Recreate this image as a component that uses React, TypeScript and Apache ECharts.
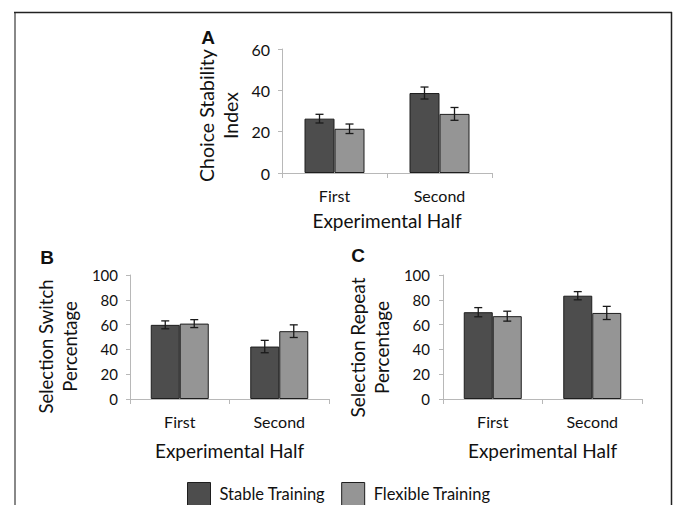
import React, { useEffect, useRef } from "react";
import * as echarts from "echarts";

const categories = ["First", "Second"];
const seriesNames = ["Stable Training", "Flexible Training"];

const stabilityStable = [26.3, 38.7];
const stabilityStableErr = [2.1, 2.9];
const stabilityFlexible = [21.4, 28.6];
const stabilityFlexibleErr = [2.3, 3.1];

const switchStable = [59.8, 42.3];
const switchStableErr = [3.2, 5.0];
const switchFlexible = [60.8, 54.7];
const switchFlexibleErr = [3.2, 5.1];

const repeatStable = [70.0, 83.3];
const repeatStableErr = [3.7, 3.3];
const repeatFlexible = [66.8, 69.4];
const repeatFlexibleErr = [4.0, 5.3];

const FONT = "Lato";
const STABLE_COLOR = "#4d4d4d";
const FLEX_COLOR = "#959595";
const EDGE = "#1e1e1e";
const AXIS_COLOR = "#b8b8b8";

export default function App() {
  const ref = useRef<HTMLDivElement>(null);
  useEffect(() => {
    if (!ref.current) return;
    const chart = echarts.init(ref.current, null, { renderer: "svg" });

    const errRender = (offset: number) => (params: any, api: any) => {
      const cat = api.value(0);
      const v = api.value(1);
      const e = api.value(2);
      const top = api.coord([cat, v + e]);
      const bot = api.coord([cat, v - e]);
      const x = top[0] + offset;
      const cap = 4;
      const st = { stroke: "#1a1a1a", lineWidth: 1.3 };
      return {
        type: "group",
        children: [
          { type: "line", shape: { x1: x, y1: top[1], x2: x, y2: bot[1] }, style: st },
          { type: "line", shape: { x1: x - cap, y1: top[1], x2: x + cap, y2: top[1] }, style: st },
          { type: "line", shape: { x1: x - cap, y1: bot[1], x2: x + cap, y2: bot[1] }, style: st },
        ],
      };
    };

    const grids = [
      { left: 282, top: 49, width: 210, height: 124 },
      { left: 130, top: 275, width: 199, height: 124 },
      { left: 443, top: 275, width: 199, height: 124 },
    ];
    const yNames = ["Choice Stability\nIndex", "Selection Switch\nPercentage", "Selection Repeat\nPercentage"];
    const yMax = [60, 100, 100];
    const yNameGap = [40, 48, 50];
    const yNameSize = [19.5, 18.5, 19];
    const yNameShift = [9, 19, 21];
    const yLabelMargin = [12, 12, 13];
    const yLabelSize = [16, 15, 15];
    const xNameGap = [38, 42, 42];
    const barW = [30, 29, 29];
    const stableData = [stabilityStable, switchStable, repeatStable];
    const stableErr = [stabilityStableErr, switchStableErr, repeatStableErr];
    const flexData = [stabilityFlexible, switchFlexible, repeatFlexible];
    const flexErr = [stabilityFlexibleErr, switchFlexibleErr, repeatFlexibleErr];

    const xAxis = grids.map((_, i) => ({
      type: "category",
      gridIndex: i,
      data: categories,
      axisLine: { lineStyle: { color: AXIS_COLOR, width: 1 } },
      axisTick: { show: true, length: 5, lineStyle: { color: AXIS_COLOR } },
      axisLabel: { color: "#111", fontFamily: FONT, fontSize: 16, margin: 14 },
      name: "Experimental Half",
      nameLocation: "middle",
      nameGap: xNameGap[i],
      nameTextStyle: { color: "#111", fontFamily: FONT, fontSize: 19 },
    }));
    const yAxis = grids.map((_, i) => ({
      type: "value",
      gridIndex: i,
      min: 0,
      max: yMax[i],
      interval: 20,
      splitLine: { show: false },
      axisLine: { show: true, lineStyle: { color: AXIS_COLOR, width: 1 } },
      axisTick: { show: true, length: 4, lineStyle: { color: AXIS_COLOR } },
      axisLabel: { color: "#111", fontFamily: FONT, fontSize: yLabelSize[i], margin: yLabelMargin[i] },
      name: yNames[i],
      nameLocation: "middle",
      nameRotate: 90,
      nameGap: yNameGap[i],
      nameTextStyle: {
        color: "#111",
        fontFamily: FONT,
        fontSize: yNameSize[i],
        lineHeight: 24,
        padding: [0, yNameShift[i], 0, 0],
      },
    }));

    const series: any[] = [];
    grids.forEach((_, i) => {
      series.push({
        type: "bar",
        name: seriesNames[0],
        xAxisIndex: i,
        yAxisIndex: i,
        data: stableData[i],
        barWidth: barW[i],
        barGap: "0%",
        itemStyle: { color: STABLE_COLOR, borderColor: EDGE, borderWidth: 1 },
      });
      series.push({
        type: "bar",
        name: seriesNames[1],
        xAxisIndex: i,
        yAxisIndex: i,
        data: flexData[i],
        barWidth: barW[i],
        barGap: "0%",
        itemStyle: { color: FLEX_COLOR, borderColor: EDGE, borderWidth: 1 },
      });
      series.push({
        type: "custom",
        xAxisIndex: i,
        yAxisIndex: i,
        renderItem: errRender(-barW[i] / 2),
        encode: { x: 0, y: 1 },
        data: categories.map((_, k) => [k, stableData[i][k], stableErr[i][k]]),
        z: 10,
      });
      series.push({
        type: "custom",
        xAxisIndex: i,
        yAxisIndex: i,
        renderItem: errRender(barW[i] / 2),
        encode: { x: 0, y: 1 },
        data: categories.map((_, k) => [k, flexData[i][k], flexErr[i][k]]),
        z: 10,
      });
    });

    const panelLabel = (text: string, x: number, y: number) => ({
      type: "text",
      x,
      y,
      style: {
        text,
        font: "bold 19px 'Liberation Sans', Arial, sans-serif",
        fill: "#111",
        textAlign: "center",
        textVerticalAlign: "middle",
      },
    });

    chart.setOption({
      animation: false,
      backgroundColor: "#ffffff",
      grid: grids,
      xAxis,
      yAxis,
      series,
      legend: {
        data: seriesNames,
        left: 187,
        top: 482,
        padding: 0,
        itemWidth: 23,
        itemHeight: 23,
        itemGap: 16,
        icon: "rect",
        itemStyle: { borderColor: EDGE, borderWidth: 1 },
        textStyle: { color: "#111", fontFamily: FONT, fontSize: 16.5, padding: [0, 0, 0, 4] },
      },
      graphic: [
        { type: "line", shape: { x1: 15, y1: 12, x2: 15, y2: 505 }, style: { stroke: "#888", lineWidth: 2 } },
        { type: "line", shape: { x1: 14, y1: 12.5, x2: 672, y2: 12.5 }, style: { stroke: "#222", lineWidth: 1.5 } },
        { type: "line", shape: { x1: 671.5, y1: 12, x2: 671.5, y2: 505 }, style: { stroke: "#222", lineWidth: 1.5 } },
        panelLabel("A", 208, 37),
        panelLabel("B", 47, 257),
        panelLabel("C", 358, 255),
      ],
    });
    return () => chart.dispose();
  }, []);
  return (
    <div
      ref={ref}
      style={{ position: "fixed", left: 0, top: 0, width: 673, height: 505, background: "#fff" }}
    />
  );
}
